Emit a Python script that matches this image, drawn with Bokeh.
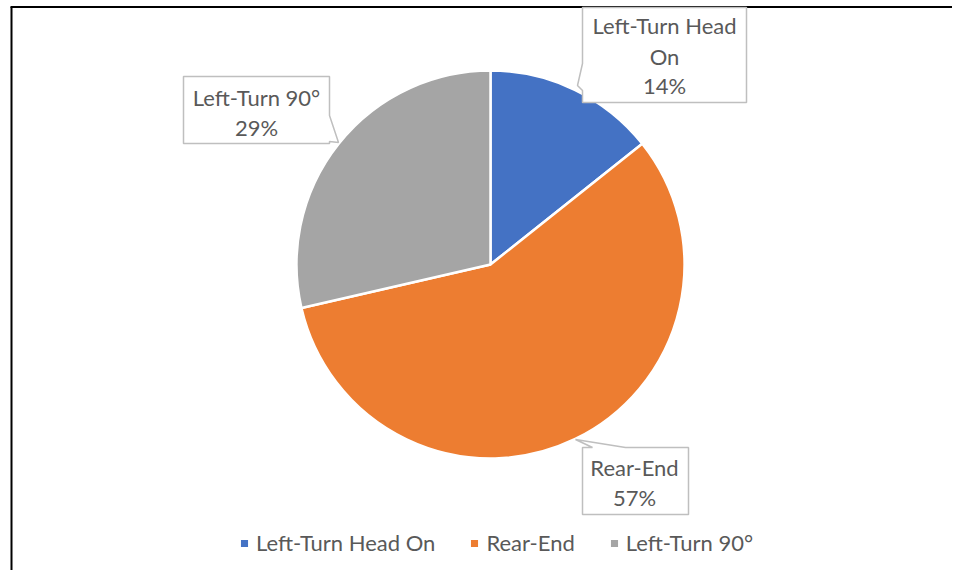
import numpy as np
from bokeh.plotting import figure
from bokeh.models import Range1d, Legend, LegendItem, ColumnDataSource
from bokeh.core.properties import value
from bokeh.embed import file_html
from bokeh.resources import INLINE

categories = ["Left-Turn Head On", "Rear-End", "Left-Turn 90°"]
shares = [14.3, 57.1, 28.6]
colors = ["#4472C4", "#ED7D31", "#A5A5A5"]
label_names = [["Left-Turn Head", "On"], ["Rear-End"], ["Left-Turn 90°"]]

W, H = 952, 570
FONT = "Lato"
TXT = "#595959"
FS = "22px"


def Y(py):
    # screen y (from top) -> data y
    return H - py


def X(px):
    return px


p = figure(width=W, height=H, output_backend="svg", toolbar_location=None,
           x_range=Range1d(0, W), y_range=Range1d(0, H), min_border=0,
           outline_line_color=None)
p.xaxis.visible = False
p.yaxis.visible = False
p.xgrid.visible = False
p.ygrid.visible = False

# frame lines (left and top edges of the chart area)
p.segment(x0=[X(11), X(10)], y0=[Y(6.5), Y(6.5)], x1=[X(11), X(W + 10)], y1=[Y(H + 10), Y(6.5)],
          line_color="black", line_width=2)

# pie
fr = np.array(shares, dtype=float) / sum(shares)
cum = np.concatenate([[0], np.cumsum(fr)])
start = np.pi / 2 - 2 * np.pi * cum[:-1]
end = np.pi / 2 - 2 * np.pi * cum[1:]
src = ColumnDataSource(dict(x=[X(490)] * 3, y=[Y(264)] * 3, start=start, end=end,
                            color=colors, cat=categories))
r = p.wedge(x="x", y="y", radius=194, start_angle="start", end_angle="end",
            direction="clock", fill_color="color", line_color="white", line_width=2.5,
            source=src)

# callout boxes
boxes = [
    [(582, 7), (746, 7), (746, 102), (582, 102), (582, 90), (577, 85), (582, 63)],
    [(582, 447), (592, 447), (575, 439), (625, 447), (688, 447), (688, 514), (582, 514)],
    [(183, 76), (329, 76), (329, 115), (338, 142), (329, 141), (329, 143), (183, 143)],
]
p.patches(xs=[[X(a) for a, b in bx] for bx in boxes],
          ys=[[Y(b) for a, b in bx] for bx in boxes],
          fill_color="white", line_color="#BFBFBF", line_width=1.5)

centers = [(664, [25, 56, 85]), (634, [467, 497]), (256, [97, 127])]
tx, ty, tt = [], [], []
for (cx, ys), names, pct in zip(centers, label_names, fr):
    lines = names + [f"{round(pct * 100)}%"]
    for yy, s in zip(ys, lines):
        tx.append(X(cx)); ty.append(Y(yy)); tt.append(s)
p.text(x=tx, y=ty, text=tt, text_align="center", text_baseline="middle",
       text_color=TXT, text_font=value(FONT), text_font_size=FS)

legend = Legend(items=[LegendItem(label=c, renderers=[r], index=i) for i, c in enumerate(categories)],
                orientation="horizontal", location=(X(238), H - 543 - 13),
                glyph_width=12, glyph_height=12, label_standoff=6, spacing=33,
                padding=0, margin=0, border_line_color=None, background_fill_alpha=0,
                label_text_font=FONT, label_text_font_size=FS, label_text_color=TXT,
                label_height=20)
p.add_layout(legend, "center")

open("out.html", "w").write(file_html(p, INLINE))
